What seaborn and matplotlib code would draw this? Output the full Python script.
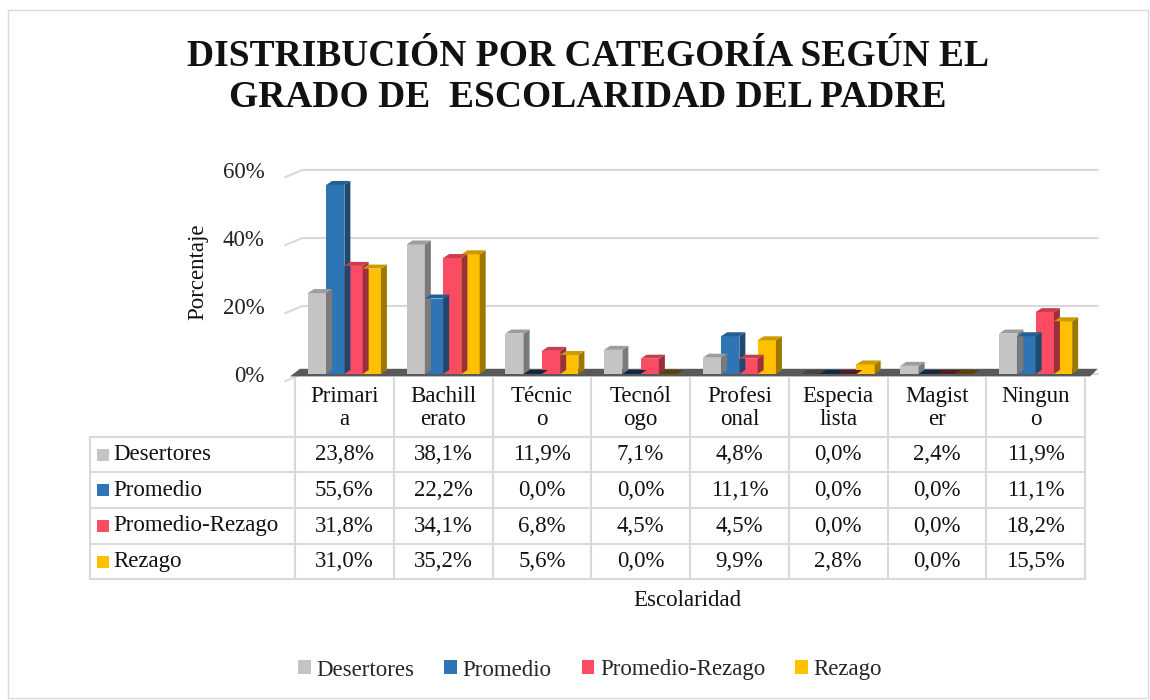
import numpy as np
import pandas as pd
import matplotlib
matplotlib.use("Agg")
import matplotlib.pyplot as plt
import seaborn as sns
from matplotlib.patches import Polygon, Rectangle, Patch
from matplotlib.lines import Line2D
from matplotlib.ticker import PercentFormatter
from matplotlib.transforms import blended_transform_factory
import matplotlib.colors as mcolors

# ---------------- data ----------------
categories = ["Primaria", "Bachillerato", "Técnico", "Tecnólogo",
              "Profesional", "Especialista", "Magister", "Ninguno"]
header_labels = ["Primari\na", "Bachill\nerato", "Técnic\no", "Tecnól\nogo",
                 "Profesi\nonal", "Especia\nlista", "Magist\ner", "Ningun\no"]
series = ["Desertores", "Promedio", "Promedio-Rezago", "Rezago"]
desertores = [23.8, 38.1, 11.9, 7.1, 4.8, 0.0, 2.4, 11.9]
promedio = [55.6, 22.2, 0.0, 0.0, 11.1, 0.0, 0.0, 11.1]
promedio_rezago = [31.8, 34.1, 6.8, 4.5, 4.5, 0.0, 0.0, 18.2]
rezago = [31.0, 35.2, 5.6, 0.0, 9.9, 2.8, 0.0, 15.5]
y_ticks = [0, 20, 40, 60]
colors = ["#C4C4C4", "#2E75B6", "#FC4C63", "#FFC000"]

values = [desertores, promedio, promedio_rezago, rezago]
df = pd.DataFrame({
    "Escolaridad": categories * len(series),
    "Porcentaje": sum(values, []),
    "Serie": [s for s in series for _ in categories],
})

# ---------------- figure ----------------
W, H = 1150, 700
FS = 16.5
sns.set_theme(style="white")
plt.rcParams["font.family"] = ["Liberation Serif", "DejaVu Serif"]
fig = plt.figure(figsize=(W / 100, H / 100), dpi=100)
fig.patch.set_facecolor("white")

def fy(py):
    return 1 - py / H

def fx(px):
    return px / W

# outer border
fig.add_artist(Rectangle((fx(8), fy(698)), fx(1140), 688 / H, transform=fig.transFigure,
                         fill=False, edgecolor="#d9d9d9", lw=1))

ax = fig.add_axes([fx(295), fy(374), fx(790), 204 / H])
sns.barplot(data=df, x="Escolaridad", y="Porcentaje", hue="Serie", palette=colors,
            width=0.74, saturation=1, ax=ax, legend=False, zorder=3, linewidth=0)
bars = [p for p in ax.patches if isinstance(p, Rectangle)]
ax.set_xlim(-0.5, len(categories) - 0.5)
ax.set_ylim(0, 60)
ax.set_yticks(y_ticks)
ax.yaxis.set_major_formatter(PercentFormatter(100, decimals=0))
ax.tick_params(axis="y", labelsize=FS, pad=22, length=0, colors="#222222")
ax.set_xticks([])
ax.set_xlabel("")
ax.set_ylabel("Porcentaje", fontsize=FS, labelpad=10, color="#111111")
for s in ax.spines.values():
    s.set_visible(False)

# depth in data units (derived from axes size)
px_per_x = 790 / len(categories)
px_per_y = 204 / 60
dxd, dyd = 6 / px_per_x, 4 / px_per_y

# gridlines (back wall) with slanted left edge
for t in y_ticks:
    ax.plot([-0.5 - 0.1, -0.5 + dxd * 1.2], [t - dyd * 1.8, t], color="#d9d9d9", lw=1.5,
            clip_on=False, zorder=1)
    ax.plot([-0.5 + dxd * 1.2, len(categories) - 0.5 + 0.13], [t, t], color="#d9d9d9",
            lw=1.5, clip_on=False, zorder=1)

# floor
floor = Polygon([[-0.5 - 0.05, -dyd * 0.6], [len(categories) - 0.5 + 0.05, -dyd * 0.6],
                 [len(categories) - 0.5 + 0.13, dyd * 1.3], [-0.5 + 0.05, dyd * 1.3]],
                closed=True, facecolor="#595959", edgecolor="none", zorder=2, clip_on=False)
ax.add_patch(floor)

# 3D faces for bars
for p in bars:
    x0, w, h = p.get_x(), p.get_width(), p.get_height()
    fc = np.array(mcolors.to_rgb(p.get_facecolor()))
    side = fc * 0.62
    top = fc * 0.8
    ax.add_patch(Polygon([[x0 + w, 0], [x0 + w + dxd, dyd], [x0 + w + dxd, h + dyd], [x0 + w, h]],
                         closed=True, facecolor=side, edgecolor="none", zorder=3))
    ax.add_patch(Polygon([[x0, h], [x0 + w, h], [x0 + w + dxd, h + dyd], [x0 + dxd, h + dyd]],
                         closed=True, facecolor=top if h > 0 else fc * 0.35,
                         edgecolor="none", zorder=3))

# ---------------- data table ----------------
line_c = "#d9d9d9"
btr = blended_transform_factory(ax.transData, fig.transFigure)
row_y = [437, 472, 508, 544, 579]
for y in row_y:
    fig.add_artist(Line2D([fx(90), fx(1085)], [fy(y), fy(y)], color=line_c, lw=1.5,
                          transform=fig.transFigure))
for i in range(len(categories) + 1):
    fig.add_artist(Line2D([i - 0.5, i - 0.5], [fy(378), fy(579)], color=line_c, lw=1.5,
                          transform=btr))
fig.add_artist(Line2D([fx(90), fx(90)], [fy(437), fy(579)], color=line_c, lw=1.5,
                      transform=fig.transFigure))

for i, lab in enumerate(header_labels):
    fig.text(i, fy(408), lab, transform=btr, ha="center", va="center", fontsize=FS,
             linespacing=1.15, color="#111111")

for r, (name, vals, col) in enumerate(zip(series, values, colors)):
    yc = (row_y[r] + row_y[r + 1]) / 2
    fig.add_artist(Rectangle((fx(97), fy(yc + 6)), fx(12), 12 / H, transform=fig.transFigure,
                             facecolor=col, edgecolor="none"))
    fig.text(fx(113), fy(yc), name, ha="left", va="center", fontsize=FS, color="#111111")
    for i, v in enumerate(vals):
        fig.text(i, fy(yc), f"{v:.1f}%".replace(".", ","), transform=btr, ha="center",
                 va="center", fontsize=FS, color="#111111")

fig.text(fx(687), fy(601), "Escolaridad", ha="center", va="center", fontsize=FS,
         color="#111111")

# title
fig.text(fx(588), fy(77), "DISTRIBUCIÓN POR CATEGORÍA SEGÚN EL\nGRADO DE  ESCOLARIDAD DEL PADRE",
         ha="center", va="center", fontsize=27, fontweight="bold", linespacing=1.2,
         color="#111111")

# legend
handles = [Patch(facecolor=c, edgecolor="none", label=s) for s, c in zip(series, colors)]
fig.legend(handles=handles, loc="center", bbox_to_anchor=(fx(590), fy(670)), ncol=4,
           frameon=False, fontsize=FS, handlelength=0.55, handleheight=0.55,
           handletextpad=0.25, columnspacing=1.3)

fig.savefig("out.png", dpi=100, facecolor="white")
